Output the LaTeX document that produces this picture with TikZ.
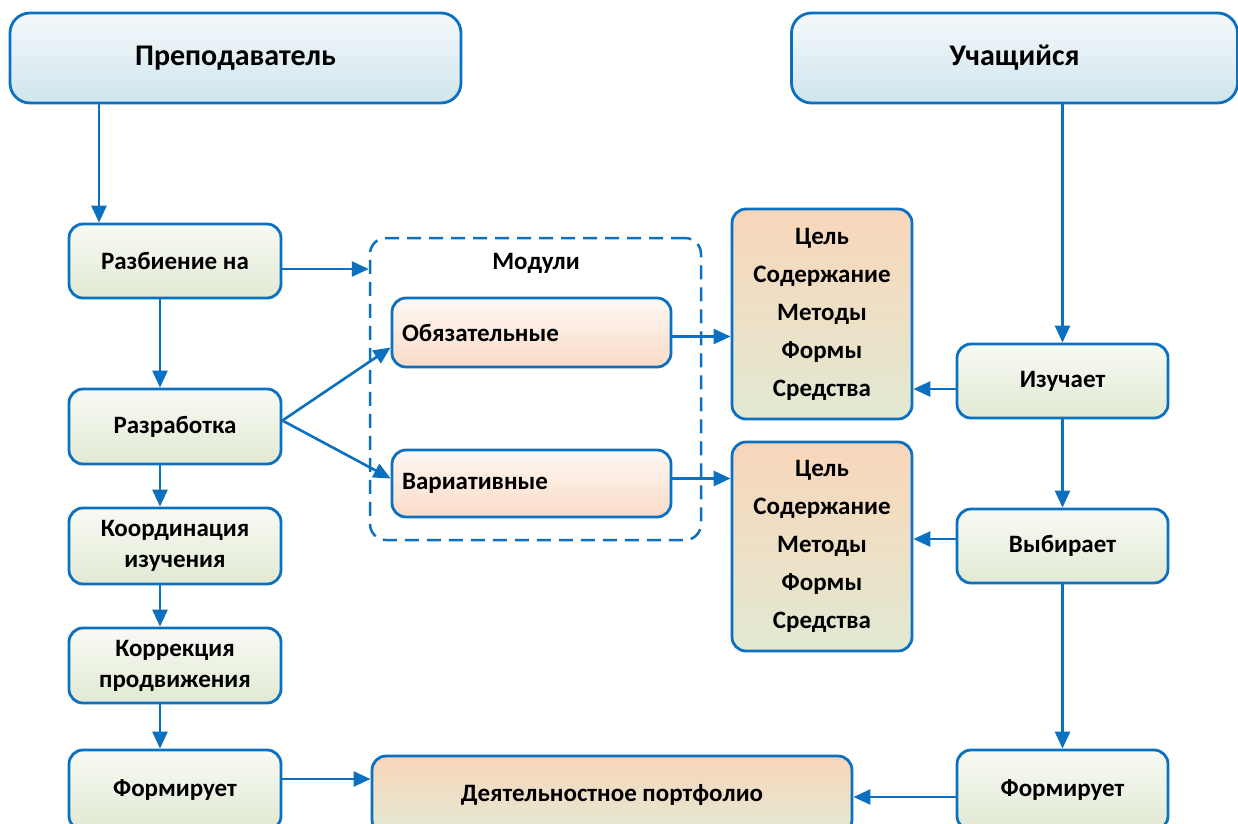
\documentclass[tikz,border=0pt]{standalone}
\usepackage{fontspec}
\setmainfont{Carlito}
\usetikzlibrary{arrows.meta,calc}
\definecolor{lineblue}{RGB}{11,112,192}
\definecolor{bluetop}{RGB}{244,249,251}
\definecolor{bluebot}{RGB}{208,229,237}
\definecolor{greentop}{RGB}{248,250,244}
\definecolor{greenbot}{RGB}{225,233,211}
\definecolor{peachtop}{RGB}{254,248,243}
\definecolor{peachbot}{RGB}{249,219,199}
\definecolor{celtop}{RGB}{248,214,186}
\definecolor{celbot}{RGB}{226,233,210}
\tikzset{
  base/.style={draw=lineblue, line width=2.8pt, rounded corners=14pt, inner sep=0pt, align=center, font=\fontsize{25}{30}\selectfont\bfseries, text=black},
  headbox/.style={base, rounded corners=20pt, top color=bluetop, bottom color=bluebot, font=\fontsize{30}{36}\selectfont\bfseries},
  greenbox/.style={base, top color=greentop, bottom color=greenbot, minimum width=212pt},
  modbox/.style={base, top color=peachtop, bottom color=peachbot, minimum width=279pt, text width=259pt, align=left, inner xsep=10pt},
  celbox/.style={base, top color=celtop, bottom color=celbot},
  dashbox/.style={draw=lineblue, line width=2.5pt, dash pattern=on 14pt off 8pt, rounded corners=16pt},
  conn/.style={draw=lineblue, line width=2.6pt, -{Triangle[length=17pt,width=15pt]}}
}
\begin{document}
\begin{tikzpicture}[x=1pt,y=-1pt]
\useasboundingbox (0,0) rectangle (1238,823);
% top boxes
\node[headbox, minimum width=451pt, minimum height=90pt] (prep) at (235.5,58) {Преподаватель};
\node[headbox, minimum width=446pt, minimum height=90pt] (ucha) at (1014.5,58) {Учащийся};
% left column
\node[greenbox, minimum height=74pt] (razb) at (175,261) {Разбиение на};
\node[greenbox, minimum height=75pt] (razr) at (175,426.5) {Разработка};
\node[greenbox, minimum height=76pt, font=\fontsize{25}{31}\selectfont\bfseries] (koord) at (175,546) {Координация\\изучения};
\node[greenbox, minimum height=75pt, font=\fontsize{25}{31}\selectfont\bfseries] (korr) at (175,665.5) {Коррекция\\продвижения};
\node[greenbox, minimum height=80pt] (formL) at (175,790) {Формирует};
% modules
\node[dashbox, minimum width=331pt, minimum height=302pt] (mod) at (535.5,389) {};
\node[font=\fontsize{25}{30}\selectfont\bfseries] (modt) at (536,263) {Модули};
\node[modbox, minimum height=69pt] (obyaz) at (531.5,332.5) {Обязательные};
\node[modbox, minimum height=67pt] (variat) at (531.5,483.5) {Вариативные};
% cel boxes
\node[celbox, minimum width=180pt, minimum height=210pt, font=\fontsize{25}{38}\selectfont\bfseries] (cel1) at (822,314) {Цель\\Содержание\\Методы\\Формы\\Средства};
\node[celbox, minimum width=180pt, minimum height=209pt, font=\fontsize{25}{38}\selectfont\bfseries] (cel2) at (822,546.5) {Цель\\Содержание\\Методы\\Формы\\Средства};
% right column
\node[greenbox, minimum width=211pt, minimum height=74pt] (izuch) at (1062.5,381) {Изучает};
\node[greenbox, minimum width=211pt, minimum height=74pt] (vyb) at (1062.5,546) {Выбирает};
\node[greenbox, minimum width=211pt, minimum height=80pt] (formR) at (1062.5,790) {Формирует};
% portfolio
\node[celbox, minimum width=480pt, minimum height=78pt] (portf) at (612,795) {Деятельностное портфолио};
% coordinates
\coordinate (xa) at (99,0);
\coordinate (xb) at (160,0);
% connectors
\draw[conn] (prep.south -| xa) -- (razb.north -| xa);
\draw[conn] ([yshift=-8pt]razb.east) -- ([yshift=-8pt]razb.east -| mod.west);
\draw[conn] (razb.south -| xb) -- (razr.north -| xb);
\draw[conn] ([yshift=6pt]razr.east) -- ([yshift=-15pt]obyaz.west);
\draw[conn] ([yshift=6pt]razr.east) -- ([yshift=5pt]variat.west);
\draw[conn] (razr.south -| xb) -- (koord.north -| xb);
\draw[conn] (koord.south -| xb) -- (korr.north -| xb);
\draw[conn] (korr.south -| xb) -- (formL.north -| xb);
\draw[conn] ([yshift=-4pt]obyaz.east) -- ([yshift=-4pt]obyaz.east -| cel1.west);
\draw[conn] ([yshift=5pt]variat.east) -- ([yshift=5pt]variat.east -| cel2.west);
\draw[conn] (ucha.south -| izuch.north) -- (izuch.north);
\draw[conn] ([yshift=-8pt]izuch.west) -- ([yshift=-8pt]izuch.west -| cel1.east);
\draw[conn] (izuch.south) -- (vyb.north);
\draw[conn] ([yshift=7pt]vyb.west) -- ([yshift=7pt]vyb.west -| cel2.east);
\draw[conn] (vyb.south) -- (formR.north);
\draw[conn] ([yshift=11pt]formL.east) -- ([yshift=11pt]formL.east -| portf.west);
\draw[conn] ([yshift=-7pt]formR.west) -- ([yshift=-7pt]formR.west -| portf.east);
\end{tikzpicture}
\end{document}
